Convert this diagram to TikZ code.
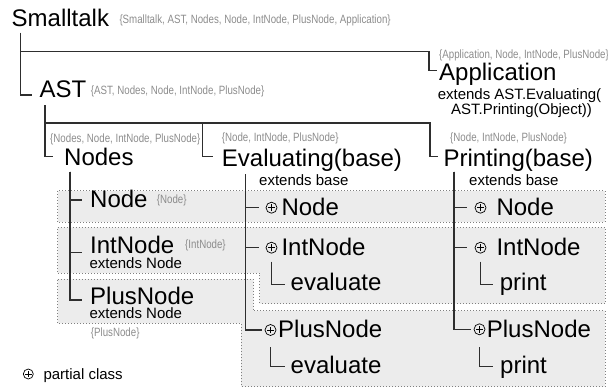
\documentclass[tikz,border=0pt]{standalone}
\usepackage{fontspec}
\setmainfont{Liberation Sans}
\newfontfamily\memberfont[FakeStretch=0.81]{Liberation Sans}
\usepackage{xcolor}
\definecolor{memberGray}{HTML}{8C8C8C}
\definecolor{bandFill}{HTML}{ECECEC}
\definecolor{treeGray}{HTML}{2E2E2E}
\def\members#1{\hbox{\textcolor{memberGray}{\memberfont\fontsize{12}{14}\selectfont\{#1\}}}}

\begin{document}
\begin{tikzpicture}[x=1pt,y=-1pt,
		tree/.style={draw=treeGray,line width=1.2pt},
		band/.style={draw=black!50,fill=bandFill,line width=0.7pt,dash pattern=on 0.8pt off 2.2pt},
		cls/.style={inner sep=0pt,anchor=base west,font=\fontsize{24}{28}\selectfont},
		ext/.style={inner sep=0pt,anchor=base west,font=\fontsize{15}{17}\selectfont},
		mem/.style={inner sep=0pt,anchor=base west},
		partial/.style={circle,draw,line width=0.7pt,minimum size=11pt,inner sep=0pt,
			path picture={\draw[line width=0.7pt]
				([xshift=-3.3pt]path picture bounding box.center) -- ([xshift=3.3pt]path picture bounding box.center)
				([yshift=-3.3pt]path picture bounding box.center) -- ([yshift=3.3pt]path picture bounding box.center);}}]

	\useasboundingbox (0,0) rectangle (608,388);

	% shaded rows, one per class
	\draw[band] (57.5,190.7) rectangle (605,222);
	\draw[band] (57.5,227.7) -- (605,227.7) -- (605,303.5) -- (259.7,303.5) -- (259.7,273) -- (57.5,273) -- cycle;
	\draw[band] (57.5,279.3) -- (253.3,279.3) -- (253.3,310.7) -- (605,310.7) -- (605,386.5)
		-- (241,386.5) -- (241,323.3) -- (57.5,323.3) -- cycle;

	% modules
	\node[cls] (St) at (11.5,26.7) {Smalltalk};
	\node[mem] (StM) at (119.3,23.5) {\members{Smalltalk, AST, Nodes, Node, IntNode, PlusNode, Application}};
	\node[cls] (App) at (439,80) {Application};
	\node[mem] (AppM) at (439,58.5) {\members{Application, Node, IntNode, PlusNode}};
	\node[ext,anchor=base] (AppE1) at (519.5,99) {extends AST.Evaluating(};
	\node[ext,anchor=base] (AppE2) at (521.5,114) {AST.Printing(Object))};
	\node[cls] (AST) at (39.3,97.3) {AST};
	\node[mem] (ASTM) at (90.7,94) {\members{AST, Nodes, Node, IntNode, PlusNode}};
	\node[cls] (Nodes) at (64,165) {Nodes};
	\node[mem] (NodesM) at (50,142.5) {\members{Nodes, Node, IntNode, PlusNode}};
	\node[cls] (Eval) at (221.7,166.7) {Evaluating(base)};
	\node[mem] (EvalM) at (221.7,141.5) {\members{Node, IntNode, PlusNode}};
	\node[ext] (EvalE) at (259,185) {extends base};
	\node[cls] (Print) at (443.3,166.7) {Printing(base)};
	\node[mem] (PrintM) at (450,141) {\members{Node, IntNode, PlusNode}};
	\node[ext] (PrintE) at (469,185) {extends base};

	% classes in Nodes
	\node[cls] (N1) at (90,207.3) {Node};
	\node[mem] (N1M) at (156.7,203.5) {\members{Node}};
	\node[cls] (N2) at (90,253.3) {IntNode};
	\node[mem] (N2M) at (185,248.5) {\members{IntNode}};
	\node[ext] (N2E) at (89.3,268.3) {extends Node};
	\node[cls] (N3) at (90,304) {PlusNode};
	\node[ext] (N3E) at (89.3,318.3) {extends Node};
	\node[mem] (N3M) at (90.7,336.8) {\members{PlusNode}};

	% partial classes in Evaluating
	\node[partial] (EP1) at (271.5,207.7) {};
	\node[cls] (E1) at (281.3,215) {Node};
	\node[partial] (EP2) at (271.5,247.7) {};
	\node[cls] (E2) at (281.3,255) {IntNode};
	\node[cls] (E2m) at (290.5,290) {evaluate};
	\node[partial] (EP3) at (270.5,330) {};
	\node[cls] (E3) at (278,337.3) {PlusNode};
	\node[cls] (E3m) at (290.5,373.3) {evaluate};

	% partial classes in Printing
	\node[partial] (PP1) at (480.5,207.7) {};
	\node[cls] (P1) at (496.3,215) {Node};
	\node[partial] (PP2) at (480.5,247.7) {};
	\node[cls] (P2) at (496.3,255) {IntNode};
	\node[cls] (P2m) at (499.7,290) {print};
	\node[partial] (PP3) at (479.5,329.3) {};
	\node[cls] (P3) at (486.7,337) {PlusNode};
	\node[cls] (P3m) at (500,373.3) {print};

	% legend
	\node[partial,minimum size=10pt] (LegP) at (28.3,374) {};
	\node[ext] (Leg) at (43.3,379.3) {partial class};

	% tree lines
	\draw[tree] ([xshift=9.2pt,yshift=-6pt]St.base west) |- ([xshift=-7.6pt,yshift=2.3pt]AST.base west);
	\draw[tree] ([xshift=9.2pt,yshift=-25pt]St.base west) -| ([xshift=-10pt,yshift=9.3pt]App.base west)
		-- ([xshift=-2.3pt,yshift=9.3pt]App.base west);

	\draw[tree] ([xshift=5.7pt,yshift=-7.7pt]AST.base west) |- ([xshift=-10.7pt,yshift=8.3pt]Nodes.base west);
	\draw[tree] ([xshift=5.7pt,yshift=-25.7pt]AST.base west) -| ([xshift=-19pt,yshift=10pt]Eval.base west)
		-- ([xshift=-8.4pt,yshift=10pt]Eval.base west);
	\draw[tree] ([xshift=5.7pt,yshift=-25.7pt]AST.base west) -| ([xshift=-13.3pt,yshift=10pt]Print.base west)
		-- ([xshift=-5pt,yshift=10pt]Print.base west);

	\draw[tree] ([xshift=6pt,yshift=-6.7pt]Nodes.base west) |- ([xshift=-8.3pt,yshift=4pt]N3.base west);
	\draw[tree] ([xshift=6pt,yshift=-6.7pt]Nodes.base west) |- ([xshift=-8.3pt,yshift=7.3pt]N1.base west);
	\draw[tree] ([xshift=6pt,yshift=-6.7pt]Nodes.base west) |- ([xshift=-8.3pt,yshift=0.6pt]N2.base west);

	\draw[tree,shorten >=2.5pt] ([xshift=23.6pt,yshift=-7.3pt]Eval.base west) |- (EP3.west);
	\draw[tree,shorten >=6.5pt] ([xshift=23.6pt,yshift=-7.3pt]Eval.base west) |- (EP1.west);
	\draw[tree,shorten >=6.5pt] ([xshift=23.6pt,yshift=-7.3pt]Eval.base west) |- (EP2.west);
	\draw[tree] ([yshift=-8pt]EP2.south) |- ([xshift=-5.5pt,yshift=5.7pt]E2m.base west);
	\draw[tree] ([yshift=-11.2pt]EP3.south) |- ([xshift=-5.5pt,yshift=6.6pt]E3m.base west);

	\draw[tree,shorten >=2.3pt] ([xshift=10.7pt,yshift=-5pt]Print.base west) |- (PP3.west);
	\draw[tree,shorten >=7.7pt] ([xshift=10.7pt,yshift=-5pt]Print.base west) |- (PP1.west);
	\draw[tree,shorten >=7.7pt] ([xshift=10.7pt,yshift=-5pt]Print.base west) |- (PP2.west);
	\draw[tree] ([yshift=-8pt]PP2.south) |- ([xshift=-6.7pt,yshift=5.7pt]P2m.base west);
	\draw[tree] ([yshift=-11.9pt]PP3.south) |- ([xshift=-6.7pt,yshift=6.6pt]P3m.base west);
\end{tikzpicture}
\end{document}
